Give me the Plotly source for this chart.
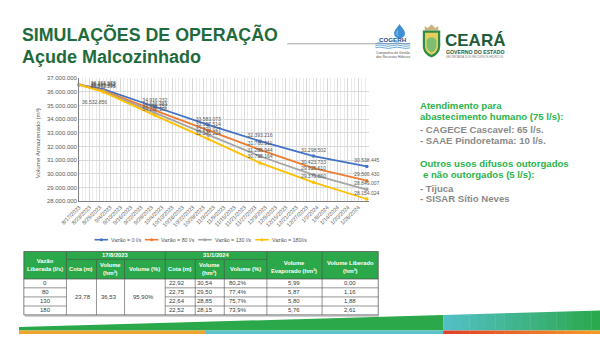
import plotly.graph_objects as go

W, H = 600, 337
FONT = "Liberation Sans, Arial, sans-serif"
NARROW = "Liberation Sans Narrow, Arial Narrow, Liberation Sans, sans-serif"

# ---- simulated storage of the reservoir (m³) ----
sim_dates = ["2023-08-17", "2023-08-31", "2023-09-30", "2023-10-31",
             "2023-11-30", "2023-12-31", "2024-01-31"]
vol_q0 = [36532856, 36201873, 34916232, 33583073, 32393216, 31298502, 30538445]
vol_q80 = [36532856, 36114262, 34646483, 33157514, 31760511, 30423733, 29500430]
vol_q130 = [36532856, 36059431, 34468157, 32829027, 31288944, 29926610, 28849007]
vol_q180 = [36532856, 36001295, 34288105, 32546224, 30798164, 29379860, 28154024]
series_names = ["Vazão = 0 l/s", "Vazão = 80 l/s", "Vazão = 130 l/s", "Vazão = 180l/s"]
series_colors = ["#4472C4", "#ED7D31", "#A5A5A5", "#FFC000"]
series_values = [vol_q0, vol_q80, vol_q130, vol_q180]

tick_dates = ["2023-08-17", "2023-08-23", "2023-08-29", "2023-09-04", "2023-09-10",
              "2023-09-16", "2023-09-22", "2023-09-28", "2023-10-04", "2023-10-10",
              "2023-10-16", "2023-10-22", "2023-10-28", "2023-11-03", "2023-11-09",
              "2023-11-15", "2023-11-21", "2023-11-27", "2023-12-03", "2023-12-09",
              "2023-12-15", "2023-12-21", "2023-12-27", "2024-01-02", "2024-01-08",
              "2024-01-14", "2024-01-20", "2024-01-26"]
tick_labels = ["8/17/2023", "8/23/2023", "8/29/2023", "9/4/2023", "9/10/2023",
               "9/16/2023", "9/22/2023", "9/28/2023", "10/4/2023", "10/10/2023",
               "10/16/2023", "10/22/2023", "10/28/2023", "11/3/2023", "11/9/2023",
               "11/15/2023", "11/21/2023", "11/27/2023", "12/3/2023", "12/9/2023",
               "12/15/2023", "12/21/2023", "12/27/2023", "1/2/2024", "1/8/2024",
               "1/14/2024", "1/20/2024", "1/26/2024"]
y_tick_vals = [28000000, 29000000, 30000000, 31000000, 32000000,
               33000000, 34000000, 35000000, 36000000, 37000000]

# ---- summary table ----
table_flow = ["0", "80", "130", "180"]
start_cota, start_vol, start_pct = "23,78", "36,53", "95,90%"
end_cota = ["22,92", "22,75", "22,64", "22,52"]
end_vol = ["30,54", "29,50", "28,85", "28,15"]
end_pct = ["80,2%", "77,4%", "75,7%", "73,9%"]
evaporated = ["5,99", "5,87", "5,80", "5,76"]
released = ["0,00", "1,16", "1,88", "2,61"]

# ---- side notes ----
notes = [
    ("Atendimento para", "g"),
    ("abastecimento humano (75 l/s):", "g"),
    ("- CAGECE Cascavel: 65 l/s.", "k"),
    ("- SAAE Pindoretama: 10 l/s.", "k"),
    ("Outros usos difusos outorgados", "g"),
    (" e não outorgados (5 l/s):", "g"),
    ("- Tijuca", "k"),
    ("- SISAR Sítio Neves", "k"),
]
note_y = [104.5, 116, 128.5, 140, 163, 174.5, 188.5, 199.5]


def thousands(v):
    return f"{v:,}".replace(",", ".")


fig = go.Figure()

for name, vals, color in zip(series_names, series_values, series_colors):
    labels = [thousands(v) for v in vals]
    labels[0] = ""
    fig.add_trace(go.Scatter(
        x=sim_dates, y=vals, name=name, mode="lines+markers+text",
        text=labels, textposition="top center",
        textfont=dict(family=FONT, size=5, color="#595959"),
        line=dict(color=color, width=1.8),
        marker=dict(color=color, size=3.5),
        cliponaxis=False, showlegend=False,
    ))

# invisible pixel-space overlay used for slide decorations
fig.add_trace(go.Scatter(x=[0], y=[0], xaxis="x2", yaxis="y2", mode="markers",
                         marker=dict(opacity=0), showlegend=False, hoverinfo="skip"))

shapes = []
annotations = []


def rect(x0, y0, x1, y1, fill, line=None, lw=0.0):
    shapes.append(dict(type="rect", xref="x2", yref="y2", x0=x0, y0=y0, x1=x1, y1=y1,
                       fillcolor=fill, line=dict(color=line or fill, width=lw), layer="above"))


def seg(x0, y0, x1, y1, color, lw=0.8):
    shapes.append(dict(type="line", xref="x2", yref="y2", x0=x0, y0=y0, x1=x1, y1=y1,
                       line=dict(color=color, width=lw), layer="above"))


def path(d, fill, line=None, lw=0.0):
    shapes.append(dict(type="path", xref="x2", yref="y2", path=d, fillcolor=fill,
                       line=dict(color=line or fill, width=lw), layer="above"))


def text(x, y, s, size, color, xanchor="left", yanchor="middle", family=FONT, angle=0):
    annotations.append(dict(x=x, y=y, xref="x2", yref="y2", text=s, showarrow=False,
                            xanchor=xanchor, yanchor=yanchor, textangle=angle,
                            font=dict(family=family, size=size, color=color),
                            borderpad=0))


def lerp(c0, c1, t):
    return "rgb({},{},{})".format(*[round(a + (b - a) * t) for a, b in zip(c0, c1)])


# ---- titles ----
GREEN_DARK = "#1f6b3d"
text(2, 32.5, "<b>SIMULAÇÕES DE OPERAÇÃO</b>", 17.8, GREEN_DARK)
text(2, 55, "<b>Açude Malcozinhado</b>", 18, GREEN_DARK)
seg(277, 41.5, 404, 41.5, "#a6a6a6", 1)

# ---- COGERH mark ----
path("M 393 21.5 C 395 25 398.6 27.5 398.6 31 C 398.6 34 396 35.8 393 35.8 "
     "C 390 35.8 387.4 34 387.4 31 C 387.4 27.5 391 25 393 21.5 Z", "#3b8fd4")
path("M 391 28 C 390 30 390 32 391.5 33.5", "rgba(0,0,0,0)", "#bfe0f7", 0.8)
text(386.5, 37.2, "<b>COGERH</b>", 6.2, "#1c4f8e", xanchor="center")
for wy in (41.2, 43.4, 45.6):
    path(f"M 368 {wy} Q 372.5 {wy-1.3} 377 {wy} T 386 {wy} T 395 {wy} T 404 {wy}",
         "rgba(0,0,0,0)", "#2f86cc", 0.7)
text(386, 50.8, "Companhia de Gestão", 3.4, "#555555", xanchor="center")
text(386, 54.8, "dos Recursos Hídricos", 3.4, "#555555", xanchor="center")

# ---- Ceará mark ----
path("M 419 28 L 419 23.5 L 422 25.5 L 426 22 L 430 25.5 L 433 23.5 L 433 28 Z", "#c9b47e")
path("M 417 28 L 435 28 L 435 44 C 435 50 430.5 54 426 55.5 C 421.5 54 417 50 417 44 Z",
     "#2f8c45")
path("M 419.3 30.3 L 432.7 30.3 L 432.7 43.5 C 432.7 48.5 429.5 51.5 426 52.8 "
     "C 422.5 51.5 419.3 48.5 419.3 43.5 Z", "#e7cf5b")
path("M 421 38 C 423 34 429 34 431 38 L 431 43 C 431 47 428.5 49.5 426 50.5 "
     "C 423.5 49.5 421 47 421 43 Z", "#7cbf73")
text(439, 38.5, "<b>CEARÁ</b>", 17, "#1e5c39")
text(440, 49.6, "<b>GOVERNO DO ESTADO</b>", 5.2, "#1e5c39")
text(440, 55.2, "SECRETARIA DOS RECURSOS HÍDRICOS", 2.9, "#7a7a7a")

# ---- chart extras ----
text(19.5, 143, "Volume Armazenado (m³)", 6.2, "#595959", xanchor="center", angle=-90)
annotations.append(dict(x=sim_dates[0], y=vol_q0[0], xref="x", yref="y",
                        text=thousands(vol_q0[0]), showarrow=False, xanchor="left",
                        yanchor="middle", xshift=1, yshift=-17,
                        font=dict(family=FONT, size=5, color="#595959")))

# legend row
legend_line_x = [78, 130, 185, 244]
legend_text_x = [94, 146, 201, 260]
for lx, tx, name, color in zip(legend_line_x, legend_text_x, series_names, series_colors):
    seg(lx, 241, lx + 14, 241, color, 1.6)
    shapes.append(dict(type="circle", xref="x2", yref="y2", x0=lx + 5.4, x1=lx + 8.6,
                       y0=239.4, y1=242.6, fillcolor=color, line=dict(color=color, width=0),
                       layer="above"))
    text(tx, 241, name, 5.3, "#595959")

# ---- side notes ----
for (s, kind), y in zip(notes, note_y):
    color = "#2bb34b" if kind == "g" else "#8a8a8a"
    x = 413
    if s.startswith(" "):
        x += 3
        s = s.strip()
    text(x, y, f"<b>{s}</b>", 9.6, color)

# ---- summary table ----
col_x = [5, 49, 80, 109, 151, 182, 212, 256, 313, 371]
top, mid, head_bot = 253, 261, 281
row_y = [281, 290, 299.25, 308.5, 317.5]
TABLE_GREEN = "#2aa84a"
GRID = "#4d4d4d"

rect(6, 317.5, 372, 319.6, "rgba(120,120,120,0.35)")
rect(col_x[0], top, col_x[-1], head_bot, TABLE_GREEN)
rect(col_x[0], head_bot, col_x[-1], row_y[-1], "white")
# outer border
rect(col_x[0], top, col_x[-1], row_y[-1], "rgba(0,0,0,0)", GRID, 0.7)
# header separators
for cx in (49, 151, 256, 313):
    seg(cx, top, cx, head_bot, GRID, 0.6)
for cx in (80, 109, 182, 212):
    seg(cx, mid, cx, head_bot, GRID, 0.6)
seg(49, mid, 256, mid, GRID, 0.6)
seg(col_x[0], head_bot, col_x[-1], head_bot, GRID, 0.7)
# body separators
for cx in col_x[1:-1]:
    seg(cx, head_bot, cx, row_y[-1], GRID, 0.6)
for ry in row_y[1:-1]:
    seg(col_x[0], ry, 49, ry, GRID, 0.6)
    seg(151, ry, col_x[-1], ry, GRID, 0.6)

HW = "white"
HS = 5.8
text(100, 257, "<b>17/8/2023</b>", HS, HW, xanchor="center", family=NARROW)
text(203.5, 257, "<b>31/1/2024</b>", HS, HW, xanchor="center", family=NARROW)
text(27, 267, "<b>Vazão<br>Liberada (l/s)</b>", HS, HW, xanchor="center", family=NARROW)
text(64.5, 271, "<b>Cota (m)</b>", HS, HW, xanchor="center", family=NARROW)
text(94.5, 271, "<b>Volume<br>(hm³)</b>", HS, HW, xanchor="center", family=NARROW)
text(130, 271, "<b>Volume (%)</b>", HS, HW, xanchor="center", family=NARROW)
text(166.5, 271, "<b>Cota (m)</b>", HS, HW, xanchor="center", family=NARROW)
text(197, 271, "<b>Volume<br>(hm³)</b>", HS, HW, xanchor="center", family=NARROW)
text(234, 271, "<b>Volume (%)</b>", HS, HW, xanchor="center", family=NARROW)
text(284.5, 268.5, "<b>Volume<br>Evaporado (hm³)</b>", HS, HW, xanchor="center", family=NARROW)
text(342, 268.5, "<b>Volume Liberado<br>(hm³)</b>", HS, HW, xanchor="center", family=NARROW)

BODY = "#3a3a3a"
body_mid = (row_y[0] + row_y[-1]) / 2
text(66, body_mid, start_cota, 6, BODY, xanchor="center")
text(93, body_mid, start_vol, 6, BODY, xanchor="center")
text(129, body_mid, start_pct, 6, BODY, xanchor="center")
for i in range(4):
    yc = (row_y[i] + row_y[i + 1]) / 2
    text(27, yc, table_flow[i], 6, BODY, xanchor="center")
    text(163, yc, end_cota[i], 6, BODY, xanchor="center")
    text(192, yc, end_vol[i], 6, BODY, xanchor="center")
    text(226, yc, end_pct[i], 6, BODY, xanchor="center")
    text(284, yc, evaporated[i], 6, BODY, xanchor="center")
    text(342, yc, released[i], 6, BODY, xanchor="center")

# ---- footer bands ----
def band_top(x):
    return 330 - 0.0283 * x

GREEN_BAND = (42, 168, 74)
TEAL = (84, 192, 200)
path(f"M 0 {band_top(0)} L 438 {band_top(438)} L 438 333.5 L 0 333.5 Z", "rgb(42,168,74)")
rect(0, 333.5, 192, 337, "#eda52e")
rect(192, 333.5, 438, 337, "#5cc3cc")
n = 18
for k in range(n):
    xa = 438 + (600 - 438) * k / n
    xb = 438 + (600 - 438) * (k + 1) / n + 0.4
    t = (k + 0.5) / n
    path(f"M {xa} {band_top(xa)} L {xb} {band_top(xb)} L {xb} 333.5 L {xa} 333.5 Z",
         lerp(TEAL, GREEN_BAND, t))
    rect(xa, 333.5, xb, 337, lerp((226, 62, 42), (243, 156, 40), t))

fig.update_layout(
    width=W, height=H, autosize=False,
    margin=dict(l=0, r=0, t=0, b=0, pad=0),
    paper_bgcolor="white", plot_bgcolor="rgba(0,0,0,0)",
    separators=",.",
    showlegend=False,
    font=dict(family=FONT, color="#595959"),
    xaxis=dict(domain=[62 / W, 361 / W], type="date",
               range=["2023-08-17", "2024-02-01"],
               tickmode="array", tickvals=tick_dates, ticktext=tick_labels,
               tickangle=-45, tickfont=dict(size=5.5, color="#595959"),
               showgrid=True, gridcolor="#d9d9d9", gridwidth=0.6,
               minor=dict(dtick=2 * 86400000, tick0="2023-08-17", showgrid=True,
                          gridcolor="#ebebeb", gridwidth=0.5),
               showline=True, linecolor="#808080", linewidth=0.8,
               zeroline=False, ticks="", anchor="y", fixedrange=True),
    yaxis=dict(domain=[1 - 201.7 / H, 1 - 76.7 / H], range=[28000000, 37000000],
               tickmode="array", tickvals=y_tick_vals, tickformat=",d",
               tickfont=dict(size=6, color="#595959"),
               showgrid=True, gridcolor="#d9d9d9", gridwidth=0.6,
               showline=True, linecolor="#808080", linewidth=0.8,
               zeroline=False, ticks="", anchor="x", fixedrange=True),
    xaxis2=dict(domain=[0, 1], range=[0, W], visible=False, anchor="y2", fixedrange=True),
    yaxis2=dict(domain=[0, 1], range=[H, 0], visible=False, anchor="x2", fixedrange=True),
    shapes=shapes,
    annotations=annotations,
)

fig.write_html("out.html")
